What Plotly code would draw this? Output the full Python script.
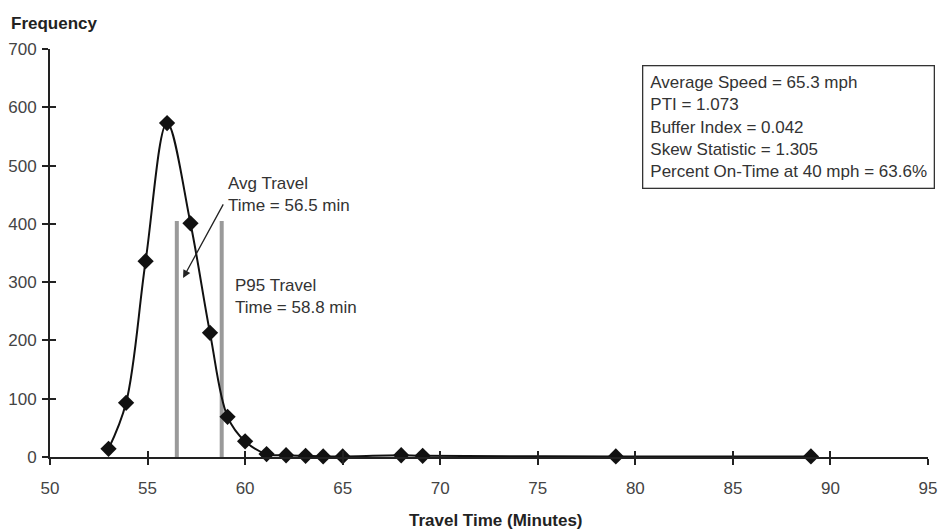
import plotly.graph_objects as go

# Data
travel_time = [53.0, 53.9, 54.9, 56.0, 57.2, 58.2, 59.1, 60.0, 61.1, 62.1, 63.1, 64.0, 65.0, 68.0, 69.1, 79.0, 89.0]
frequency = [14, 93, 336, 573, 401, 213, 69, 27, 5, 3, 2, 1, 1, 3, 2, 1, 1]

avg_travel_time = 56.5
p95_travel_time = 58.8
marker_line_height = 405

x_ticks = [50, 55, 60, 65, 70, 75, 80, 85, 90, 95]
y_ticks = [0, 100, 200, 300, 400, 500, 600, 700]

stats_lines = [
    "Average Speed = 65.3 mph",
    "PTI = 1.073",
    "Buffer Index = 0.042",
    "Skew Statistic = 1.305",
    "Percent On-Time at 40 mph = 63.6%",
]

FONT = "Liberation Sans, Arial, sans-serif"
AXC = "#222222"
PW, PH = 878, 408  # plot area size in px

fig = go.Figure()

# gray vertical lines for avg and p95
for xv in [avg_travel_time, p95_travel_time]:
    fig.add_trace(go.Scatter(
        x=[xv, xv], y=[0, marker_line_height], mode="lines",
        line=dict(color="#9a9a9a", width=4), hoverinfo="skip", showlegend=False))

fig.add_trace(go.Scatter(
    x=travel_time, y=frequency, mode="lines+markers",
    line=dict(color="#111111", width=2, shape="spline", smoothing=1.0),
    marker=dict(symbol="diamond", size=12.5, color="#111111"),
    cliponaxis=False, showlegend=False))

# invisible trace to activate the secondary (inside-tick) axes
fig.add_trace(go.Scatter(x=[x_ticks[0]], y=[y_ticks[0]], xaxis="x2", yaxis="y2", mode="markers",
                         marker=dict(opacity=0), showlegend=False, hoverinfo="skip"))

axis_common = dict(showgrid=False, zeroline=False, showline=True, linecolor=AXC, linewidth=2,
                   tickcolor=AXC, tickwidth=2, ticklen=6, automargin=False)

fig.update_layout(
    width=945, height=529,
    margin=dict(l=50, r=17, t=49, b=72),
    paper_bgcolor="white", plot_bgcolor="white",
    xaxis=dict(range=[50, 95], tickvals=x_ticks, ticks="outside", anchor="y", ticklabelstandoff=9,
               tickfont=dict(family=FONT, size=17, color="#444444"), **axis_common),
    yaxis=dict(range=[0, 700], tickvals=y_ticks, ticks="outside", anchor="x", ticklabelstandoff=2,
               tickfont=dict(family=FONT, size=17, color="#444444"), **axis_common),
    xaxis2=dict(range=[50, 95], tickvals=x_ticks, ticks="inside", overlaying="x", anchor="y2", side="bottom",
                showticklabels=False, **axis_common),
    yaxis2=dict(range=[0, 700], tickvals=y_ticks, ticks="inside", overlaying="y", anchor="x2", side="left",
                showticklabels=False, **axis_common),
    font=dict(family=FONT, size=17, color="#333333"),
)

# axis titles
fig.add_annotation(text="<b>Frequency</b>", xref="paper", yref="paper", x=-41/PW, y=1 + 26/PH,
                   xanchor="left", yanchor="middle", showarrow=False,
                   font=dict(family=FONT, size=17, color="#222222"))
fig.add_annotation(text="<b>Travel Time (Minutes)</b>", xref="paper", yref="paper", x=(496-50)/PW, y=-(520-457)/PH,
                   xanchor="center", yanchor="middle", showarrow=False,
                   font=dict(family=FONT, size=17, color="#222222"))

# arrow
fig.add_annotation(x=56.82, y=307, ax=58.92, ay=436, xref="x", yref="y", axref="x", ayref="y",
                   text="", showarrow=True, arrowhead=2, arrowsize=1.2, arrowwidth=1.3, arrowcolor="#222222")

fig.add_annotation(text="Avg Travel<br>Time = 56.5 min", x=59.0, y=(457-194)/0.583, xref="x", yref="y",
                   xanchor="left", yanchor="middle", align="left", showarrow=False,
                   font=dict(family=FONT, size=17, color="#333333"))
fig.add_annotation(text="P95 Travel<br>Time = 58.8 min", x=59.4, y=(457-296)/0.583, xref="x", yref="y",
                   xanchor="left", yanchor="middle", align="left", showarrow=False,
                   font=dict(family=FONT, size=17, color="#333333"))

# stats box
fig.add_annotation(text="<br>".join(stats_lines), xref="paper", yref="paper",
                   x=(935-50)/PW, y=(457-65)/PH, xanchor="right", yanchor="top", align="left",
                   showarrow=False, bordercolor="#333333", borderwidth=1.3, borderpad=7, bgcolor="white",
                   font=dict(family=FONT, size=17, color="#333333"))

fig.write_html("out.html", config={"displayModeBar": False},
               post_script="document.body.style.margin='0';")
